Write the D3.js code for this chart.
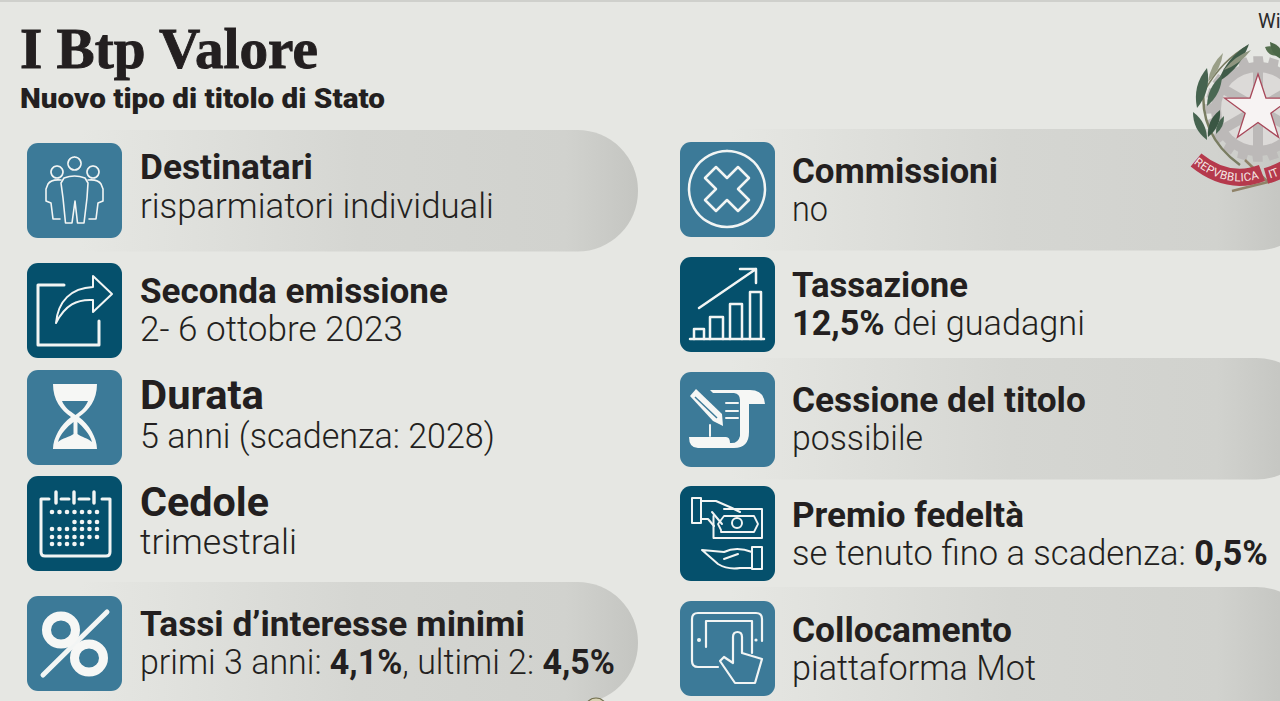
<!DOCTYPE html>
<html>
<head>
<meta charset="utf-8">
<script src="https://cdn.jsdelivr.net/npm/d3@7"></script>
<style>
html, body { margin: 0; padding: 0; background: #e6e7e3; overflow: hidden; }
svg { display: block; }
</style>
</head>
<body>
<script>
var chartTitle = 'I Btp Valore';
var chartSubtitle = 'Nuovo tipo di titolo di Stato';

// *...* marks the bold bits of a line
var leftTitles = ['Destinatari', 'Seconda emissione', 'Durata', 'Cedole', 'Tassi d’interesse minimi'];
var leftLines = ['risparmiatori individuali', '2- 6 ottobre 2023', '5 anni (scadenza: 2028)', 'trimestrali', 'primi 3 anni: *4,1%*, ultimi 2: *4,5%*'];
var rightTitles = ['Commissioni', 'Tassazione', 'Cessione del titolo', 'Premio fedeltà', 'Collocamento'];
var rightLines = ['no', '*12,5%* dei guadagni', 'possibile', 'se tenuto fino a scadenza: *0,5%*', 'piattaforma Mot'];

var pillTitles = ['Destinatari', 'Tassi d’interesse minimi', 'Commissioni', 'Cessione del titolo', 'Collocamento'];
var darkTitles = ['Seconda emissione', 'Cedole', 'Tassazione', 'Premio fedeltà'];

var allTitles = leftTitles.concat(rightTitles);
var allLines = leftLines.concat(rightLines);

// layout, same order as allTitles
var tileY = d3.scaleOrdinal().domain(allTitles).range([143, 263, 370, 476, 596, 142, 257, 372, 486, 601]);
var titleBase = d3.scaleOrdinal().domain(allTitles).range([179, 303, 409, 516, 636, 183, 297, 412, 527, 642]);
var lineBase = d3.scaleOrdinal().domain(allTitles).range([218, 341, 448, 554, 674, 221, 335, 450, 565, 680]);
var titleSize = d3.scaleOrdinal().domain(allTitles).range([35, 35, 41, 41, 35, 35, 35, 35, 35, 35]);
var titleWidth = d3.scaleOrdinal().domain(allTitles).range([173, 308, 124, 129, 385, 206, 176, 294, 232, 220]);
var lineWidth = d3.scaleOrdinal().domain(allTitles).range([354, 263, 355, 157, 475, 36, 293, 131, 476, 244]);
var pillTop = d3.scaleOrdinal().domain(pillTitles).range([130, 582, 129, 358, 587]);

var W = 1280, H = 701;
var bg = '#e6e7e3', ink = '#231f20', teal = '#3c7a98', navy = '#05506c';

var svg = d3.select('body').append('svg').attr('width', W).attr('height', H);
svg.append('rect').attr('width', W).attr('height', H).attr('fill', bg);
svg.append('rect').attr('width', W).attr('height', 2).attr('fill', '#cfd0cc');

var defs = svg.append('defs');
function pillGradient(id, x1, x2) {
    var g = defs.append('linearGradient').attr('id', id)
        .attr('gradientUnits', 'userSpaceOnUse')
        .attr('x1', x1).attr('x2', x2).attr('y1', 0).attr('y2', 0);
    g.append('stop').attr('offset', 0).attr('stop-color', bg);
    g.append('stop').attr('offset', 0.5).attr('stop-color', '#d5d6d2');
    g.append('stop').attr('offset', 0.87).attr('stop-color', '#d1d2ce');
    g.append('stop').attr('offset', 1).attr('stop-color', '#c4c5c1');
}
pillGradient('pillLeft', 80, 638);
pillGradient('pillRight', 730, 1290);

function isLeft(name) { return leftTitles.indexOf(name) >= 0; }

// pills
svg.selectAll('rect.pill').data(pillTitles).enter().append('rect')
    .attr('class', 'pill')
    .attr('x', function (d) { return isLeft(d) ? 27 : 680; })
    .attr('y', function (d) { return pillTop(d); })
    .attr('width', function (d) { return isLeft(d) ? 611 : 637; })
    .attr('height', 121.5)
    .attr('rx', 60.5)
    .attr('fill', function (d) { return isLeft(d) ? 'url(#pillLeft)' : 'url(#pillRight)'; });

// bit of a coin peeping in at the bottom edge
svg.append('circle').attr('cx', 596).attr('cy', 709).attr('r', 11)
    .attr('fill', '#d9d3b4').attr('stroke', '#6f6c4a').attr('stroke-width', 1.2);

// tiles
var tiles = svg.selectAll('g.tile').data(allTitles).enter().append('g')
    .attr('class', 'tile')
    .attr('transform', function (d) { return 'translate(' + (isLeft(d) ? 27 : 680) + ',' + tileY(d) + ')'; });
tiles.append('rect').attr('width', 95).attr('height', 95).attr('rx', 11)
    .attr('fill', function (d) { return darkTitles.indexOf(d) >= 0 ? navy : teal; });

function tile(name) { return tiles.filter(function (d) { return d === name; }); }
function outline(g, d, w) {
    return g.append('path').attr('d', d).attr('fill', 'none').attr('stroke', '#f2f5f4')
        .attr('stroke-width', w || 2).attr('stroke-linejoin', 'round').attr('stroke-linecap', 'round');
}
function solid(g, d, c) { return g.append('path').attr('d', d).attr('fill', c || '#f6f7f5'); }

// Destinatari
var ic = tile('Destinatari');
outline(ic, 'M47.5 14a6.5 6.5 0 1 0 .01 0M30 23a6 6 0 1 0 .01 0M66 23a6 6 0 1 0 .01 0', 1.6);
outline(ic, 'M37 35Q47.5 31 58 35L61 40L60 55L57 80H50.5L48 58L45 80H38.5L36 55L34 40Z', 1.6);
outline(ic, 'M34 37Q24 36 21 41L19 46V58L24 60L26 76H33M61 37Q71 36 74 41L76 46V58L71 60L69 76H62', 1.6);

// Seconda emissione
ic = tile('Seconda emissione');
outline(ic, 'M37 22H11V82H72V58', 3);
outline(ic, 'M29 60C31 38 44 25 66 24V13L85 31L66 49V37C50 36 38 42 29 60Z', 2);

// Durata
ic = tile('Durata');
solid(ic, 'M26 14H70C70 30 62 40 52 47C62 54 70 68 70 79H26C26 68 34 54 44 47C34 40 26 30 26 14Z');
solid(ic, 'M35 31H61C58 38 54 41 48.5 45C43 41 38 38 35 31Z', teal);
solid(ic, 'M46.5 52C40 57 33 64 31 72C35 68 43 67 46.5 64ZM50.5 52C56 57 63 64 65 72C61 68 54 67 50.5 64Z', teal);

// Cedole
ic = tile('Cedole');
outline(ic, 'M22 23H14V76Q14 80 18 80H79Q83 80 83 76V23H75M34 23H42M52 23H62', 3);
outline(ic, 'M29 16V27M47 16V27M67 16V27', 3.4);
[36, 46, 53, 61, 68].forEach(function (y, i) {
    var from = i === 1 ? 3 : 0, to = i === 4 ? 4 : 6;
    d3.range(from, to + 1).forEach(function (c) {
        ic.append('circle').attr('cx', 25 + c * 7.5).attr('cy', y).attr('r', 2.3).attr('fill', '#f2f5f4');
    });
});

// Tassi
ic = tile('Tassi d’interesse minimi');
outline(ic, 'M16 79L80 16', 5);
ic.append('ellipse').attr('cx', 34).attr('cy', 34).attr('rx', 14.5).attr('ry', 14)
    .attr('fill', 'none').attr('stroke', '#f6f7f5').attr('stroke-width', 9);
ic.append('ellipse').attr('cx', 62).attr('cy', 62).attr('rx', 14.5).attr('ry', 14)
    .attr('fill', 'none').attr('stroke', '#f6f7f5').attr('stroke-width', 9);

// Commissioni
ic = tile('Commissioni');
outline(ic, 'M47 9a38 38 0 1 0 .01 0', 2.5);
outline(ic, 'M36 25L47 36L58 25L69 36L58 47L69 58L58 69L47 58L36 69L25 58L36 47L25 36Z', 2.5);

// Tassazione
ic = tile('Tassazione');
outline(ic, 'M10 82H84', 2.5);
outline(ic, 'M14 82V72H24V82M30 82V60H43V82M50 82V47H62V82M70 82V35H81V82', 2.5);
outline(ic, 'M19 51L76 12M60 12H76V26', 2.5);

// Cessione
ic = tile('Cessione del titolo');
solid(ic, 'M30 18H70Q84 18 85 32H69V60Q69 76 54 76H18Q9 76 9 65H46Q50 65 50 71Q58 72 60 64V28Q60 22 54 21H33Z');
solid(ic, 'M10 24L16 17L42 42L43 54L33 49Z');
ic.append('path').attr('d', 'M15 25L37 46').attr('stroke', teal).attr('stroke-width', 1.5);
outline(ic, 'M46 31H58M46 39H58M46 46H58', 2);
outline(ic, 'M30 53V64', 2);

// Premio
ic = tile('Premio fedeltà');
outline(ic, 'M12 12H21V37H12Z', 2);
outline(ic, 'M21 15H36L52 22L60 26M21 33H28L34 40', 2);
outline(ic, 'M33.5 30V52H82V23H44', 2);
outline(ic, 'M41 44L38 38L44 30H74L78 38L74 46H41Z', 1.8);
ic.append('circle').attr('cx', 57).attr('cy', 37).attr('r', 5).attr('fill', 'none').attr('stroke', '#f2f5f4').attr('stroke-width', 2);
outline(ic, 'M32 26L42 38', 2);
outline(ic, 'M72 61H82V83H72ZM72 66C62 62 52 62 44 66L22 64L38 78Q48 84 60 82H72M44 73L58 68', 2);

// Collocamento
ic = tile('Collocamento');
outline(ic, 'M18 12H76Q82 12 82 18V40M18 12Q12 12 12 18V60Q12 66 18 66H38', 2.2);
outline(ic, 'M26 46V20H72V52', 2.2);
ic.append('circle').attr('cx', 19).attr('cy', 39).attr('r', 2).attr('fill', '#f2f5f4');
ic.append('circle').attr('cx', 76).attr('cy', 39).attr('r', 1.6).attr('fill', '#f2f5f4');
ic.append('path').attr('d', 'M53 62V36Q53 31 57.5 31Q62 31 62 36V52L82 58L75 82H55L40 60L44 56Z')
    .attr('fill', teal).attr('stroke', '#f2f5f4').attr('stroke-width', 2.2).attr('stroke-linejoin', 'round');

// stretch a text to the width it has in the print
function fit(sel, x, y, width) {
    sel.attr('transform', function () {
        var k = width / this.getComputedTextLength();
        return 'translate(' + x + ',' + y + ') scale(' + k + ',1)';
    });
}

// row texts
allTitles.forEach(function (name, i) {
    var x = isLeft(name) ? 140 : 792;
    var t = svg.append('text').attr('class', 'rowTitle')
        .attr('font-family', 'Roboto').attr('font-weight', 700)
        .attr('font-size', titleSize(name)).attr('fill', ink).text(name);
    fit(t, x, titleBase(name), titleWidth(name));

    var l = svg.append('text').attr('class', 'rowLine')
        .attr('font-family', 'Roboto').attr('font-weight', 300)
        .attr('font-size', 35).attr('fill', ink);
    allLines[i].split('*').forEach(function (part, j) {
        if (part) l.append('tspan').attr('font-weight', j % 2 ? 700 : 300).text(part);
    });
    fit(l, x, lineBase(name), lineWidth(name));
});

// heading
var head = svg.append('text').attr('font-family', 'Liberation Serif').attr('font-weight', 700)
    .attr('font-size', 56).attr('fill', ink).attr('stroke', ink).attr('stroke-width', 0.9).text(chartTitle);
fit(head, 20, 68, 298);
var sub = svg.append('text').attr('font-family', 'Roboto').attr('font-weight', 900)
    .attr('font-size', 28).attr('fill', ink).text(chartSubtitle);
fit(sub, 20, 108, 365);

svg.append('text').attr('x', 1258).attr('y', 28).attr('font-family', 'Roboto').attr('font-size', 20)
    .attr('fill', '#2b2b2b').text('Wi');

// emblem, cut off by the right edge like in the source
var em = svg.append('g');
var cx = 1258, cy = 109;
var gear = [];
d3.range(20).forEach(function (i) {
    var step = Math.PI / 10, a0 = i * step - 0.09, a1 = i * step + 0.09, a2 = (i + 0.5) * step;
    gear.push([Math.cos(a0) * 53, Math.sin(a0) * 53], [Math.cos(a1) * 53, Math.sin(a1) * 53]);
    gear.push([Math.cos(a1 + 0.03) * 47, Math.sin(a1 + 0.03) * 47], [Math.cos(a2 + 0.06) * 47, Math.sin(a2 + 0.06) * 47]);
});
em.append('polygon').attr('points', gear.map(function (p) { return (cx + p[0]) + ',' + (cy + p[1]); }).join(' '))
    .attr('fill', '#bcb9b8');
em.append('circle').attr('cx', cx).attr('cy', cy).attr('r', 37).attr('fill', '#dcdad8');
d3.range(6).forEach(function (i) {
    var a = i * Math.PI / 3 + Math.PI / 2;
    em.append('line').attr('x1', cx).attr('y1', cy)
        .attr('x2', cx + Math.cos(a) * 40).attr('y2', cy + Math.sin(a) * 40)
        .attr('stroke', '#bcb9b8').attr('stroke-width', 10);
});
var star = d3.range(10).map(function (i) {
    var a = -Math.PI / 2 + i * Math.PI / 5, r = i % 2 ? 13.5 : 35;
    return (cx + Math.cos(a) * r) + ',' + (cy + Math.sin(a) * r);
}).join(' ');
em.append('polygon').attr('points', star).attr('fill', '#f7f3f3').attr('stroke', '#a8485a').attr('stroke-width', 1.3);

function leaf(x1, y1, x2, y2, w, c) {
    var mx = (x1 + x2) / 2, my = (y1 + y2) / 2, dx = y2 - y1, dy = x1 - x2;
    var l = Math.sqrt(dx * dx + dy * dy);
    dx = dx / l * w; dy = dy / l * w;
    em.append('path').attr('d', 'M' + x1 + ' ' + y1 + 'Q' + (mx + dx) + ' ' + (my + dy) + ' ' + x2 + ' ' + y2 +
        'Q' + (mx - dx) + ' ' + (my - dy) + ' ' + x1 + ' ' + y1 + 'Z').attr('fill', c);
}
em.append('path').attr('d', 'M1204 85Q1198 135 1240 165').attr('fill', 'none').attr('stroke', '#7a7d62').attr('stroke-width', 2.5);
em.append('path').attr('d', 'M1205 90Q1222 60 1248 46').attr('fill', 'none').attr('stroke', '#7a7d62').attr('stroke-width', 1.5);
leaf(1197, 108, 1207, 68, 10, '#46634f');
leaf(1218, 82, 1249, 44, 9, '#3f5b48');
leaf(1208, 82, 1223, 53, 6, '#9a9f88');
leaf(1224, 70, 1251, 50, 5, '#8f9680');
leaf(1207, 106, 1222, 75, 8, '#4a6853');
leaf(1193, 112, 1207, 140, 8, '#46634f');
leaf(1208, 137, 1220, 110, 8, '#3a5643');
leaf(1216, 134, 1224, 116, 5, '#46634f');
leaf(1265, 47, 1280, 55, 8, '#55704f');
leaf(1270, 42, 1284, 60, 8, '#4c6848');

// ribbon
em.append('path').attr('d', 'M1245 160L1268 182L1232 191').attr('fill', 'none').attr('stroke', '#8f8268').attr('stroke-width', 2.5);
em.append('path').attr('d', 'M1196 160Q1228 186 1262 173')
    .attr('fill', 'none').attr('stroke', '#b5394c').attr('stroke-width', 17);
em.append('path').attr('d', 'M1266 176Q1280 172 1292 164')
    .attr('fill', 'none').attr('stroke', '#b5394c').attr('stroke-width', 16);
defs.append('path').attr('id', 'ribbonLeft').attr('d', 'M1196 160Q1228 186 1262 173');
defs.append('path').attr('id', 'ribbonRight').attr('d', 'M1268 175Q1280 172 1300 158');
em.append('text').attr('font-family', 'Roboto').attr('font-size', 11.5).attr('fill', '#f4e8e6')
    .attr('dy', 4)
    .append('textPath').attr('href', '#ribbonLeft').attr('startOffset', 0).text('REPVBBLICA');
em.append('text').attr('font-family', 'Roboto').attr('font-size', 11.5).attr('fill', '#f4e8e6')
    .attr('dy', 4)
    .append('textPath').attr('href', '#ribbonRight').attr('startOffset', 1).text('IT');
</script>
</body>
</html>
